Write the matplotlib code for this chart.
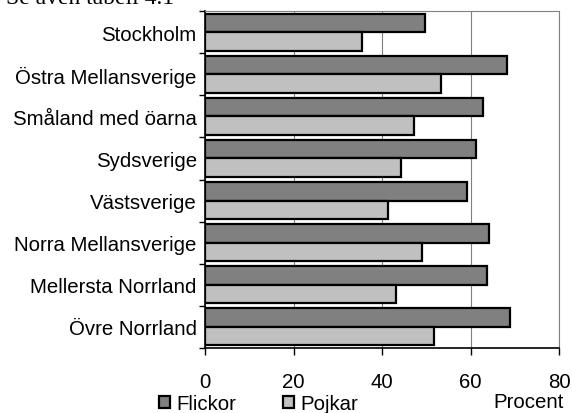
import numpy as np
import matplotlib.pyplot as plt

plt.rcParams['font.family'] = ['Liberation Sans', 'DejaVu Sans']

# data (procent)
regioner = ['Stockholm', 'Östra Mellansverige', 'Småland med öarna', 'Sydsverige',
            'Västsverige', 'Norra Mellansverige', 'Mellersta Norrland', 'Övre Norrland']
flickor = [49.7, 68.3, 62.8, 61.3, 59.2, 64.2, 63.7, 68.9]
pojkar = [35.5, 53.3, 47.2, 44.3, 41.4, 49.0, 43.2, 51.8]

fs = 14.7

fig = plt.figure(figsize=(5.72, 4.14), dpi=100)
ax = fig.add_axes([205/572, 1-349/414, 354/572, 337/414])

y = np.arange(len(regioner))
h = 0.44
ax.barh(y - h/2, flickor, h, color='#808080', edgecolor='black', linewidth=1.6,
        label='Flickor', zorder=3)
ax.barh(y + h/2, pojkar, h, color='#C0C0C0', edgecolor='black', linewidth=1.6,
        label='Pojkar', zorder=3)

ax.set_xlim(0, 80)
ax.set_ylim(len(regioner) - 0.5, -0.5)
ax.set_xticks([0, 20, 40, 60, 80])
ax.set_yticks(y)
ax.set_yticklabels(regioner, fontsize=fs)
ax.set_yticks(np.arange(len(regioner) + 1) - 0.5, minor=True)
ax.tick_params(axis='y', which='major', length=0, pad=6)
ax.tick_params(axis='y', which='minor', length=4, width=1, direction='out')
ax.tick_params(axis='x', length=5, width=1, labelsize=fs, pad=12)
ax.grid(axis='x', color='#808080', linewidth=0.8, zorder=0)
for s in ['top', 'right']:
    ax.spines[s].set_color('#808080')
    ax.spines[s].set_linewidth(0.8)
ax.spines['left'].set_linewidth(1.2)
ax.spines['bottom'].set_linewidth(1.2)

fig.text(564/572, 1-403/414, 'Procent', ha='right', va='center', fontsize=fs)
leg = fig.legend(loc='center left', bbox_to_anchor=(159/572, 1-405/414), ncol=2,
                 frameon=False, fontsize=fs, handlelength=0.55, handleheight=0.55,
                 handletextpad=0.3, columnspacing=2.3, borderaxespad=0, borderpad=0)

# caption cut off at the very top, as in the source
fig.text(0.01, 1-4/414, 'Se även tabell 4.1', ha='left', va='baseline', fontsize=17,
         family=['Liberation Serif', 'DejaVu Serif'])

fig.savefig('out.png', dpi=100)
